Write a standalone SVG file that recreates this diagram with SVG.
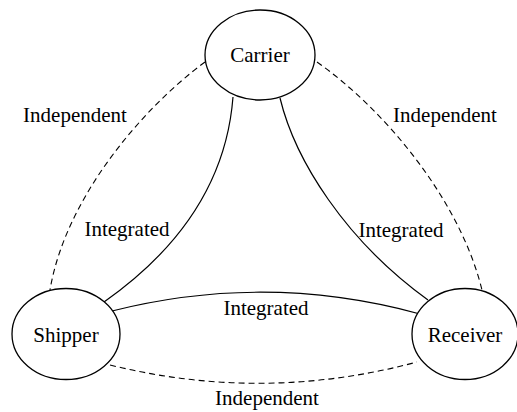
<svg xmlns="http://www.w3.org/2000/svg" width="517" height="412" viewBox="0 0 517 412">
  <style>
    .node ellipse { fill: #ffffff; stroke: #000000; stroke-width: 1.3; }
    text { font-family: "Liberation Serif", "Times New Roman", serif; font-size: 21px; fill: #000000; text-anchor: middle; }
    .solid { fill: none; stroke: #000000; stroke-width: 1.2; }
    .dashed { fill: none; stroke: #000000; stroke-width: 1.1; stroke-dasharray: 6 4; }
  </style>
  <rect width="517" height="412" fill="#ffffff"/>

  <!-- connectors between the three parties -->
  <g id="connectors">
    <path class="solid" d="M233,97 C227,175 185,245 104,302"/>
    <path class="solid" d="M280,98 C295,160 345,240 428,300"/>
    <path class="solid" d="M112,311 Q266,272 420,314"/>
    <path class="dashed" d="M205,62 C140,110 65,200 50,290"/>
    <path class="dashed" d="M317,62 C385,110 460,200 482,290"/>
    <path class="dashed" d="M110,365 Q264,403 417,362"/>
  </g>

  <!-- connector labels -->
  <g id="labels">
    <text x="75" y="122">Independent</text>
    <text x="445" y="122">Independent</text>
    <text x="127" y="236">Integrated</text>
    <text x="401" y="237">Integrated</text>
    <text x="266" y="315">Integrated</text>
    <text x="267" y="405">Independent</text>
  </g>

  <g id="carrier" class="node">
    <ellipse cx="260" cy="55" rx="55" ry="45"/>
    <text x="260" y="62">Carrier</text>
  </g>
  <g id="shipper" class="node">
    <ellipse cx="66" cy="334" rx="54" ry="45.5"/>
    <text x="66" y="342">Shipper</text>
  </g>
  <g id="receiver" class="node">
    <ellipse cx="465" cy="334" rx="53" ry="45.5"/>
    <text x="465" y="342">Receiver</text>
  </g>
</svg>
